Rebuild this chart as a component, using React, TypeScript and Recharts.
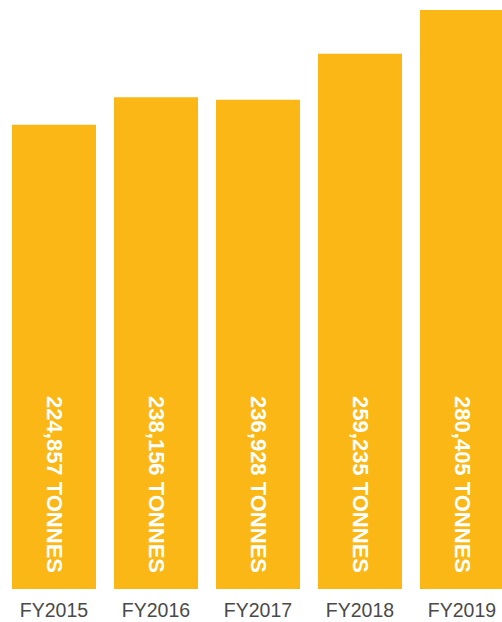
import React from 'react';
import { BarChart, Bar, XAxis, YAxis, LabelList } from 'recharts';

// Values
const years = ['FY2015', 'FY2016', 'FY2017', 'FY2018', 'FY2019'];
const tonnes = [224857, 238156, 236928, 259235, 280405];

const data = years.map((year, i) => ({ year, tonnes: tonnes[i] }));

const FONT = '"Liberation Sans", Arial, Helvetica, sans-serif';

const VerticalLabel = (props: any) => {
  const { x, y, width, height, value } = props;
  const cx = x + width / 2;
  const bottom = y + height - 16;
  return (
    <text
      x={cx}
      y={bottom}
      transform={`rotate(90, ${cx}, ${bottom})`}
      textAnchor="end"
      dominantBaseline="central"
      fill="#ffffff"
      fontFamily={FONT}
      fontWeight="bold"
      fontSize={22}
    >
      {`${Number(value).toLocaleString('en-US')} TONNES`}
    </text>
  );
};

const App = () => {
  return (
    <div style={{ position: 'absolute', left: 0, top: 0, width: 502, height: 622, overflow: 'hidden' }}>
      <BarChart
        width={520}
        height={622}
        data={data}
        margin={{ top: 10, right: 7, left: 3, bottom: 0 }}
        barCategoryGap={9}
      >
        <XAxis
          dataKey="year"
          height={33}
          axisLine={false}
          tickLine={false}
          tickSize={0}
          tickMargin={14}
          tick={{ fill: '#4a4a4a', fontSize: 19.5, fontFamily: FONT }}
          interval={0}
        />
        <YAxis hide domain={[0, 280405]} />
        <Bar dataKey="tonnes" fill="#FBB716" isAnimationActive={false}>
          <LabelList dataKey="tonnes" content={<VerticalLabel />} />
        </Bar>
      </BarChart>
    </div>
  );
};

export default App;
